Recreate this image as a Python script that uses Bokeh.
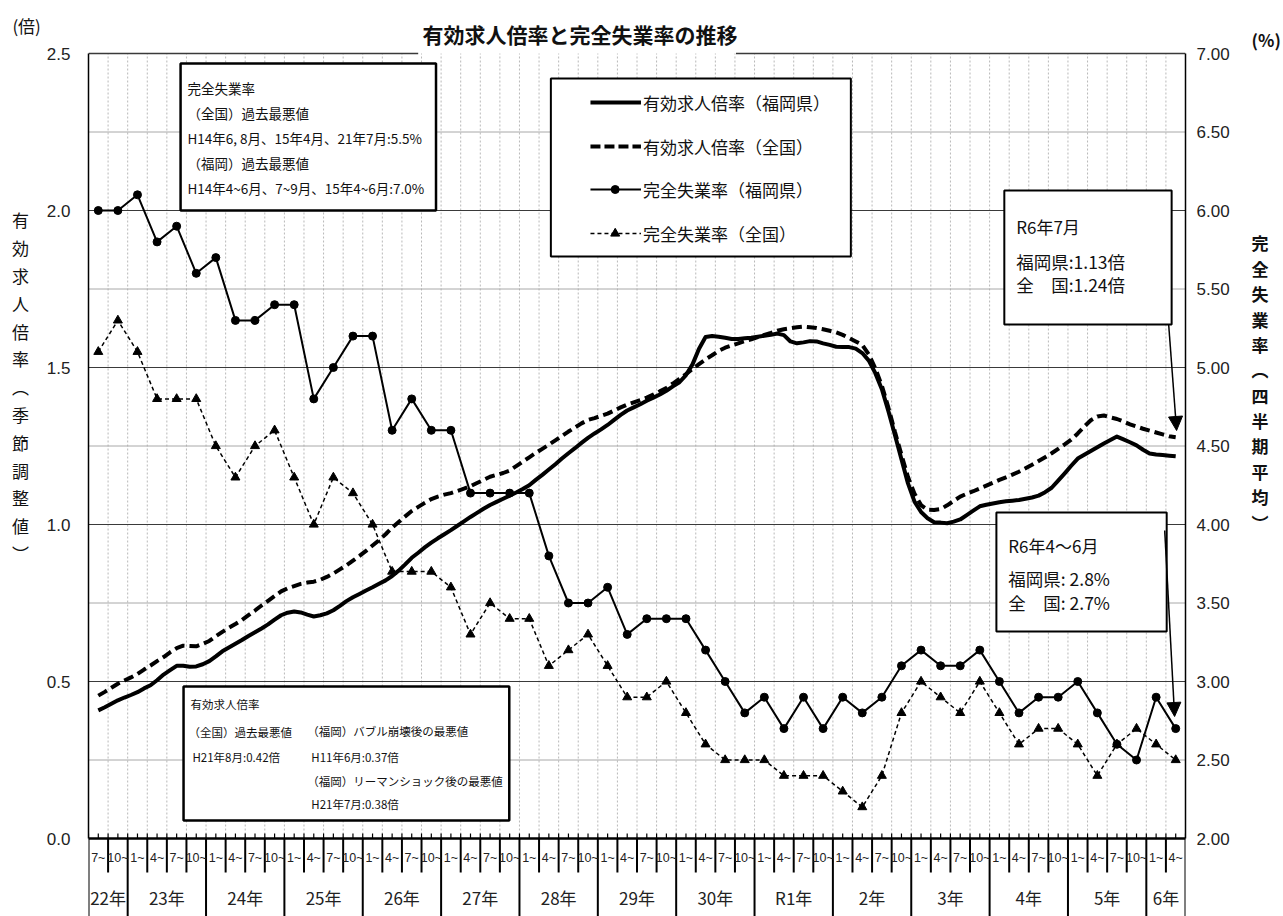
from bokeh.plotting import figure
from bokeh.models import Range1d, LinearAxis, FixedTicker, PrintfTickFormatter, Label, Arrow, NormalHead
from bokeh.core.properties import value
from bokeh.embed import file_html
from bokeh.resources import INLINE

# ---------------- data ----------------
quarter_labels = ["7~", "10~"] + ["1~", "4~", "7~", "10~"] * 13 + ["1~", "4~"]
year_labels = ["22年", "23年", "24年", "25年", "26年", "27年", "28年", "29年", "30年",
               "R1年", "2年", "3年", "4年", "5年", "6年"]
year_quarters = [2, 4, 4, 4, 4, 4, 4, 4, 4, 4, 4, 4, 4, 4, 2]

left_ticks = [0.0, 0.5, 1.0, 1.5, 2.0, 2.5]
right_ticks = [2.0, 2.5, 3.0, 3.5, 4.0, 4.5, 5.0, 5.5, 6.0, 6.5, 7.0]

# monthly effective job-offer ratio (seasonally adjusted), Jul 2010 -> 2024
ratio_fukuoka = [
    0.408, 0.418, 0.429, 0.440, 0.449, 0.457, 0.466, 0.478, 0.488, 0.504,
    0.522, 0.536, 0.550, 0.550, 0.547, 0.548, 0.555, 0.565, 0.580, 0.596,
    0.608, 0.620, 0.632, 0.645, 0.657, 0.669, 0.682, 0.697, 0.711, 0.719,
    0.723, 0.720, 0.713, 0.707, 0.711, 0.717, 0.727, 0.741, 0.756, 0.768,
    0.779, 0.790, 0.800, 0.811, 0.822, 0.836, 0.853, 0.873, 0.894, 0.910,
    0.927, 0.942, 0.956, 0.969, 0.982, 0.996, 1.010, 1.024, 1.037, 1.050,
    1.062, 1.072, 1.082, 1.092, 1.102, 1.113, 1.125, 1.142, 1.158, 1.175,
    1.192, 1.210, 1.227, 1.243, 1.260, 1.276, 1.290, 1.303, 1.317, 1.333,
    1.349, 1.363, 1.373, 1.383, 1.394, 1.404, 1.414, 1.426, 1.440, 1.453,
    1.476, 1.510, 1.560, 1.597, 1.600, 1.598, 1.595, 1.591, 1.591, 1.593,
    1.595, 1.598, 1.601, 1.604, 1.608, 1.603, 1.583, 1.577, 1.580, 1.584,
    1.583, 1.577, 1.572, 1.566, 1.565, 1.565, 1.560, 1.546, 1.522, 1.482,
    1.431, 1.361, 1.285, 1.208, 1.131, 1.073, 1.040, 1.020, 1.007, 1.006,
    1.004, 1.009, 1.016, 1.030, 1.044, 1.058, 1.063, 1.067, 1.071, 1.074,
    1.076, 1.078, 1.082, 1.086, 1.092, 1.103, 1.117, 1.140, 1.163, 1.187,
    1.210, 1.222, 1.234, 1.246, 1.258, 1.269, 1.280, 1.271, 1.262, 1.252,
    1.238, 1.226, 1.223, 1.221, 1.219, 1.217]
ratio_national = [
    0.455, 0.467, 0.480, 0.493, 0.503, 0.513, 0.524, 0.538, 0.551, 0.565,
    0.578, 0.593, 0.606, 0.614, 0.613, 0.612, 0.620, 0.629, 0.644, 0.658,
    0.671, 0.683, 0.696, 0.711, 0.726, 0.742, 0.757, 0.772, 0.787, 0.797,
    0.804, 0.811, 0.815, 0.818, 0.824, 0.833, 0.844, 0.857, 0.870, 0.885,
    0.900, 0.916, 0.933, 0.950, 0.969, 0.990, 1.008, 1.026, 1.043, 1.056,
    1.069, 1.081, 1.089, 1.095, 1.100, 1.107, 1.114, 1.122, 1.132, 1.142,
    1.152, 1.158, 1.164, 1.172, 1.186, 1.200, 1.214, 1.228, 1.241, 1.254,
    1.268, 1.282, 1.296, 1.309, 1.322, 1.333, 1.339, 1.346, 1.353, 1.363,
    1.373, 1.382, 1.389, 1.396, 1.404, 1.414, 1.424, 1.435, 1.449, 1.464,
    1.479, 1.495, 1.511, 1.526, 1.539, 1.553, 1.563, 1.570, 1.577, 1.584,
    1.590, 1.597, 1.604, 1.610, 1.617, 1.622, 1.625, 1.628, 1.630, 1.628,
    1.626, 1.622, 1.617, 1.612, 1.604, 1.594, 1.583, 1.572, 1.542, 1.497,
    1.442, 1.372, 1.295, 1.222, 1.151, 1.098, 1.062, 1.047, 1.046, 1.049,
    1.061, 1.075, 1.089, 1.098, 1.106, 1.115, 1.124, 1.133, 1.142, 1.150,
    1.159, 1.168, 1.179, 1.190, 1.202, 1.214, 1.227, 1.241, 1.255, 1.270,
    1.290, 1.312, 1.332, 1.344, 1.347, 1.341, 1.336, 1.328, 1.319, 1.312,
    1.305, 1.299, 1.293, 1.287, 1.281, 1.278]

# quarterly unemployment rate (%)
unemp_fukuoka = [
    6.0, 6.0, 6.1, 5.8, 5.9, 5.6, 5.7, 5.3, 5.3, 5.4,
    5.4, 4.8, 5.0, 5.2, 5.2, 4.6, 4.8, 4.6, 4.6, 4.2,
    4.2, 4.2, 4.2, 3.8, 3.5, 3.5, 3.6, 3.3, 3.4, 3.4,
    3.4, 3.2, 3.0, 2.8, 2.9, 2.7, 2.9, 2.7, 2.9, 2.8,
    2.9, 3.1, 3.2, 3.1, 3.1, 3.2, 3.0, 2.8, 2.9, 2.9,
    3.0, 2.8, 2.6, 2.5, 2.9, 2.7]
unemp_national = [
    5.1, 5.3, 5.1, 4.8, 4.8, 4.8, 4.5, 4.3, 4.5, 4.6,
    4.3, 4.0, 4.3, 4.2, 4.0, 3.7, 3.7, 3.7, 3.6, 3.3,
    3.5, 3.4, 3.4, 3.1, 3.2, 3.3, 3.1, 2.9, 2.9, 3.0,
    2.8, 2.6, 2.5, 2.5, 2.5, 2.4, 2.4, 2.4, 2.3, 2.2,
    2.4, 2.8, 3.0, 2.9, 2.8, 3.0, 2.8, 2.6, 2.7, 2.7,
    2.6, 2.4, 2.6, 2.7, 2.6, 2.5]

legend_labels = ["有効求人倍率（福岡県）", "有効求人倍率（全国）", "完全失業率（福岡県）", "完全失業率（全国）"]
title_text = "有効求人倍率と完全失業率の推移"
left_title = "有効求人倍率︵季節調整値︶"
right_title = "完全失業率︵四半期平均︶"

# ---------------- layout helpers (reference pixel -> data) ----------------
NQ = len(quarter_labels)
FL, FR, FT, FB = 88, 1196, 51, 916      # frame edges in page pixels
W, H = 1283, 916
QW = (FR - FL) / NQ
PU = 314.0
def X(px):
    return (px - FL) / QW
def Y(py):
    return (838.0 - py) / PU

JP = "Noto Sans CJK JP"
NUM = "Liberation Sans"

y_lo = Y(FB)
y_hi = Y(FT)

p = figure(width=W, height=H, x_range=Range1d(0, NQ), y_range=Range1d(y_lo, y_hi),
           x_axis_type=None, output_backend="svg", toolbar_location=None,
           min_border_left=FL, min_border_right=W - FR, min_border_top=FT, min_border_bottom=0,
           title=title_text)
p.outline_line_color = None
p.grid.visible = False
p.background_fill_color = "white"
p.title.align = "left"
p.title.offset = 422 - FL
p.title.text_font = JP
p.title.text_font_size = "21px"
p.title.text_font_style = "bold"
p.title.text_color = "#111111"
p.title.standoff = 6

p.extra_y_ranges = {"r": Range1d(2 + 2 * y_lo, 2 + 2 * y_hi)}

# left axis
ya = p.yaxis[0]
ya.ticker = FixedTicker(ticks=left_ticks)
ya.formatter = PrintfTickFormatter(format="%.1f")
ya.bounds = (0, 2.5)
ya.major_tick_out = 0
ya.major_tick_in = 0
ya.minor_tick_out = 0
ya.minor_tick_in = 0
ya.axis_line_width = 1.5
ya.axis_line_color = "black"
ya.major_label_standoff = 18
ya.major_label_text_font = NUM
ya.major_label_text_font_size = "17px"
ya.major_label_text_color = "#222222"
left_lines = ["(倍)"] + [" "] * 6 + [ch + "\u2002\u2009" for ch in left_title] + [" "] * 14
ya.axis_label = "\n".join(left_lines)
ya.axis_label_orientation = "horizontal"
ya.axis_label_text_font = JP
ya.axis_label_text_font_size = "17px"
ya.axis_label_text_font_style = "normal"
ya.axis_label_text_line_height = 1.112
ya.axis_label_standoff = 3
ya.axis_label_text_color = "#111111"

# right axis
ra = LinearAxis(y_range_name="r", ticker=FixedTicker(ticks=right_ticks),
                formatter=PrintfTickFormatter(format="%.2f"), bounds=(2, 7))
ra.major_tick_out = 0
ra.major_tick_in = 0
ra.minor_tick_out = 0
ra.minor_tick_in = 0
ra.axis_line_width = 1.5
ra.axis_line_color = "black"
ra.major_label_standoff = 11
ra.major_label_text_font = NUM
ra.major_label_text_font_size = "17px"
ra.major_label_text_color = "#222222"
right_lines = ["(%)"] + [" "] * 7 + list(right_title) + [" "] * 16
ra.axis_label = "\n".join(right_lines)
ra.axis_label_orientation = "horizontal"
ra.axis_label_text_font = JP
ra.axis_label_text_font_size = "17px"
ra.axis_label_text_font_style = "bold"
ra.axis_label_text_line_height = 1.015
ra.axis_label_standoff = 19
ra.axis_label_text_align = "center"
ra.axis_label_text_color = "#111111"
p.add_layout(ra, "right")

# ---------------- grid ----------------
vx = [q for q in range(1, NQ)]
p.segment(x0=vx, y0=[0] * len(vx), x1=vx, y1=[2.5] * len(vx),
          line_color="#b8b8b8", line_width=1, line_dash="2 2")
minor_h = [0.25 + 0.5 * k for k in range(5)]
p.segment(x0=[0] * 5, y0=minor_h, x1=[NQ] * 5, y1=minor_h, line_color="#a8a8a8", line_width=1)
major_h = [0.5, 1.0, 1.5, 2.0]
p.segment(x0=[0] * 4, y0=major_h, x1=[NQ] * 4, y1=major_h, line_color="#3a3a3a", line_width=1)
# top border with gap for title
p.segment(x0=[0, X(742)], y0=[2.5, 2.5], x1=[X(421), NQ], y1=[2.5, 2.5],
          line_color="#3a3a3a", line_width=1.5)

# ---------------- category axis (bottom) ----------------
p.segment(x0=[0], y0=[0], x1=[NQ], y1=[0], line_color="black", line_width=2.5)
tx = [k * 0.5 for k in range(2 * NQ + 1)]
p.segment(x0=tx, y0=[0] * len(tx), x1=tx, y1=[Y(833)] * len(tx), line_color="black", line_width=1.2)
bounds = [0]
for n in year_quarters:
    bounds.append(bounds[-1] + n)
qsep = [q for q in range(1, NQ) if q not in bounds]
p.segment(x0=qsep, y0=[0] * len(qsep), x1=qsep, y1=[Y(872)] * len(qsep), line_color="black", line_width=2)
p.segment(x0=bounds, y0=[0] * len(bounds), x1=bounds, y1=[y_lo] * len(bounds), line_color="black", line_width=2)
p.text(x=[i + 0.5 for i in range(NQ)], y=[Y(857)] * NQ, text=quarter_labels,
       text_font=value(NUM), text_font_size="12.5px", text_align="center",
       text_baseline="middle", text_color="#222222")
yc = [(bounds[i] + bounds[i + 1]) / 2 for i in range(len(year_labels))]
p.text(x=yc, y=[Y(897)] * len(yc), text=year_labels, text_font=value(JP),
       text_font_size="17px", text_align="center", text_baseline="middle", text_color="#222222")

# ---------------- text boxes ----------------
def box(x0, y0, x1, y1, lw=2.5):
    p.quad(left=[X(x0)], right=[X(x1)], top=[Y(y0)], bottom=[Y(y1)],
           fill_color="white", line_color="black", line_width=lw)

def lab(px, py, text, size, align="left", bold=False, font=JP, color="#111111"):
    p.add_layout(Label(x=X(px), y=Y(py), text=text, text_font=font, text_font_size=size,
                       text_align=align, text_baseline="middle",
                       text_font_style="bold" if bold else "normal", text_color=color))

box(181, 63, 439, 210)
box(555, 78, 858, 256, 2)
box(1013, 190, 1182, 324, 2)
box(1005, 512, 1177, 631, 2)
box(184, 686, 513, 820)

# ---------------- data series ----------------
xm = [0.5 + m / 3.0 for m in range(len(ratio_fukuoka))]
xq = [i + 0.5 for i in range(NQ)]
p.line(xm, ratio_national, line_color="black", line_width=4, line_dash="10 5")
p.line(xm, ratio_fukuoka, line_color="black", line_width=4, line_join="round")
p.line(xq, unemp_national, y_range_name="r", line_color="black", line_width=1.5, line_dash="4 3")
p.scatter(xq, unemp_national, y_range_name="r", marker="triangle", size=9,
          fill_color="black", line_color="black")
p.line(xq, unemp_fukuoka, y_range_name="r", line_color="black", line_width=2)
p.scatter(xq, unemp_fukuoka, y_range_name="r", marker="circle", size=8,
          fill_color="black", line_color="black")

# ---------------- legend (manual) ----------------
ly = [102, 146, 189, 233]
p.segment(x0=[X(595)], y0=[Y(ly[0])], x1=[X(646)], y1=[Y(ly[0])], line_color="black", line_width=4)
p.segment(x0=[X(595)], y0=[Y(ly[1])], x1=[X(646)], y1=[Y(ly[1])], line_color="black", line_width=4, line_dash="10 4")
p.segment(x0=[X(595)], y0=[Y(ly[2])], x1=[X(646)], y1=[Y(ly[2])], line_color="black", line_width=2)
p.scatter([X(620)], [Y(ly[2])], marker="circle", size=8, fill_color="black", line_color="black")
p.segment(x0=[X(595)], y0=[Y(ly[3])], x1=[X(646)], y1=[Y(ly[3])], line_color="black", line_width=1.5, line_dash="4 3")
p.scatter([X(620)], [Y(ly[3])], marker="triangle", size=9, fill_color="black", line_color="black")
for yy, t in zip(ly, legend_labels):
    lab(648, yy, t, "17px")

# ---------------- annotation texts ----------------
tl = ["完全失業率", "（全国）過去最悪値", "H14年6, 8月、15年4月、21年7月:5.5%",
      "（福岡）過去最悪値", "H14年4~6月、7~9月、15年4~6月:7.0%"]
for k, t in enumerate(tl):
    lab(188, 87 + 25 * k, t, "13.5px")

lab(191, 703, "有効求人倍率", "11.5px")
lab(189, 731, "（全国）過去最悪値", "11.5px")
lab(193, 756, "H21年8月:0.42倍", "11.5px")
lab(309, 730, "（福岡）バブル崩壊後の最悪値", "11.5px")
lab(313, 756, "H11年6月:0.37倍", "11.5px")
lab(309, 780, "（福岡）リーマンショック後の最悪値", "11.5px")
lab(313, 803, "H21年7月:0.38倍", "11.5px")

lab(1025, 226, "R6年7月", "17px")
lab(1025, 261, "福岡県:1.13倍", "17.5px")
lab(1025, 284, "全　国:1.24倍", "17.5px")

lab(1017, 545, "R6年4〜6月", "17px")
lab(1017, 578, "福岡県: 2.8%", "17.5px")
lab(1017, 602, "全　国: 2.7%", "17.5px")

p.add_layout(Arrow(end=NormalHead(size=14, fill_color="black", line_color="black"),
                   x_start=X(1179), y_start=Y(324), x_end=X(1187), y_end=Y(430),
                   line_color="black", line_width=1.5))
p.add_layout(Arrow(end=NormalHead(size=14, fill_color="black", line_color="black"),
                   x_start=X(1175), y_start=Y(530), x_end=X(1185), y_end=Y(716),
                   line_color="black", line_width=1.5))

open("out.html", "w").write(file_html(p, INLINE))
